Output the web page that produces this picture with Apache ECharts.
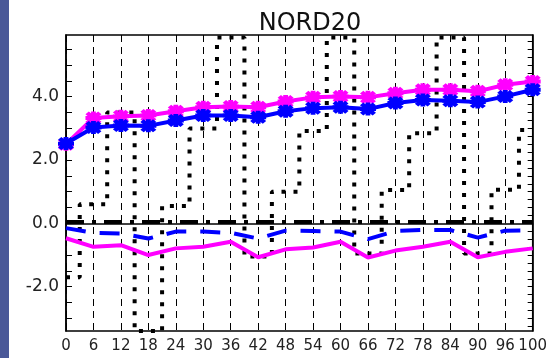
<!DOCTYPE html>
<html>
<head>
<meta charset="utf-8">
<script src="https://cdn.jsdelivr.net/npm/echarts@6/dist/echarts.min.js"></script>
<style>
  html, body { margin: 0; padding: 0; background: #ffffff; }
  #chart { width: 550px; height: 358px; }
</style>
</head>
<body>
<div id="chart"></div>
<script>
// Tick labels along the horizontal axis
const xLabels = ['0', '6', '12', '18', '24', '30', '36', '42', '48', '54', '60', '66', '72', '78', '84', '90', '96', '100'];

// Upper pair of curves (with asterisk markers)
const upperMagenta = [2.50, 3.33, 3.38, 3.41, 3.54, 3.67, 3.69, 3.67, 3.85, 3.98, 4.01, 3.98, 4.11, 4.22, 4.22, 4.17, 4.38, 4.48];
const upperBlue    = [2.52, 3.03, 3.09, 3.08, 3.25, 3.41, 3.41, 3.35, 3.54, 3.64, 3.67, 3.61, 3.80, 3.90, 3.87, 3.83, 4.01, 4.22];

// Dotted histogram-style series
const stepBlack = [-1.70, 0.60, 3.50, -3.40, 0.55, 3.00, 5.87, -1.05, 1.00, 2.92, 5.87, -0.95, 1.05, 2.85, 5.87, -0.95, 1.06, 2.95];

// Lower group of curves
const dashDotBlack = [0.04, 0.04, 0.04, 0.04, 0.04, 0.04, 0.04, 0.04, 0.04, 0.04, 0.04, 0.04, 0.04, 0.04, 0.04, 0.04, 0.04, 0.04];
const dashedBlue   = [-0.15, -0.30, -0.32, -0.48, -0.26, -0.26, -0.30, -0.48, -0.23, -0.24, -0.26, -0.50, -0.24, -0.21, -0.21, -0.45, -0.23, -0.22];
const lowerMagenta = [-0.47, -0.74, -0.69, -1.00, -0.79, -0.74, -0.58, -1.07, -0.82, -0.76, -0.58, -1.08, -0.86, -0.74, -0.58, -1.07, -0.90, -0.79];

// Y axis ticks: labelled values, left minor ticks, right-hand fine ticks
const yLabelValues = [-2, 0, 2, 4];
const yLeftTicks = [-3, -2.5, -2, -1.5, -1, -0.5, 0, 0.5, 1, 1.5, 2, 2.5, 3, 3.5, 4, 4.5, 5, 5.5];
const yRightTicks = [-3.25, -3, -2.75, -2.5, -2.25, -2, -1.75, -1.5, -1.25, -1, -0.75, -0.5, -0.25, 0, 0.25, 0.5, 0.75, 1,
  1.25, 1.5, 1.75, 2, 2.25, 2.5, 2.75, 3, 3.25, 3.5, 3.75, 4, 4.25, 4.5, 4.75, 5, 5.25, 5.5, 5.75];

const Y_MIN = -3.4, Y_MAX = 5.95;

// Chunky asterisk marker
const asterisk = 'path://M0 7H20V13H0Z M7 0H13V20H7Z M4.2 0L20 15.8L15.8 20L0 4.2Z M15.8 0L20 4.2L4.2 20L0 15.8Z';

const MAGENTA = '#ff00ff';
const BLUE = '#0000ff';

const chart = echarts.init(document.getElementById('chart'), null, { renderer: 'canvas' });

chart.setOption({
  backgroundColor: '#ffffff',
  animation: false,
  title: {
    text: 'NORD20',
    left: 305,
    top: 7,
    textAlign: 'center',
    textStyle: { fontFamily: 'DejaVu Sans', fontSize: 24, fontWeight: 'normal', color: '#111111' }
  },
  graphic: [{
    type: 'rect',
    shape: { x: 0, y: 0, width: 9, height: 358 },
    style: { fill: '#4a5898' },
    silent: true
  }],
  grid: {
    left: 66, top: 35, width: 477, height: 296,
    show: true, borderColor: '#000000', borderWidth: 1.5, backgroundColor: 'transparent'
  },
  xAxis: {
    type: 'category',
    data: xLabels,
    boundaryGap: false,
    axisLine: { show: true, lineStyle: { color: '#000000', width: 1.5 } },
    axisTick: { show: true, inside: true, length: 5, lineStyle: { color: '#000000' } },
    axisLabel: {
      interval: 0, margin: 8,
      fontFamily: 'DejaVu Sans', fontSize: 15, color: '#222222'
    },
    splitLine: { show: true, lineStyle: { color: '#000000', width: 1, type: [7, 5] } }
  },
  yAxis: [{
    type: 'value',
    min: Y_MIN, max: Y_MAX,
    axisLine: { show: true, lineStyle: { color: '#000000', width: 1.5 } },
    axisTick: { show: true, inside: true, length: 6, customValues: yLeftTicks, lineStyle: { color: '#000000' } },
    axisLabel: {
      customValues: yLabelValues, margin: 7,
      formatter: v => v.toFixed(1),
      fontFamily: 'DejaVu Sans', fontSize: 17, color: '#222222'
    },
    splitLine: { show: false }
  }, {
    type: 'value',
    position: 'right',
    min: Y_MIN, max: Y_MAX,
    axisLine: { show: true, lineStyle: { color: '#000000', width: 1.5 } },
    axisTick: { show: true, inside: true, length: 5, customValues: yRightTicks, lineStyle: { color: '#000000' } },
    axisLabel: { show: false },
    splitLine: { show: false }
  }],
  series: [
    {
      name: 'step', type: 'line', data: stepBlack, step: 'middle',
      symbol: 'none', z: 2,
      lineStyle: { color: '#000000', width: 4, type: [4, 8], cap: 'butt' }
    },
    {
      name: 'dashdot', type: 'line', data: dashDotBlack,
      symbol: 'none', z: 3,
      lineStyle: { color: '#000000', width: 4, type: [18, 8, 4, 8], cap: 'butt' }
    },
    {
      name: 'dashedBlue', type: 'line', data: dashedBlue,
      symbol: 'none', z: 3,
      lineStyle: { color: BLUE, width: 4, type: [20, 14], cap: 'butt' }
    },
    {
      name: 'lowerMagenta', type: 'line', data: lowerMagenta,
      symbol: 'none', z: 3,
      lineStyle: { color: MAGENTA, width: 4 }
    },
    {
      name: 'upperMagenta', type: 'line', data: upperMagenta,
      symbol: asterisk, symbolSize: [16, 13], showAllSymbol: true, z: 4,
      itemStyle: { color: MAGENTA },
      lineStyle: { color: MAGENTA, width: 4 }
    },
    {
      name: 'upperBlue', type: 'line', data: upperBlue,
      symbol: asterisk, symbolSize: [16, 13], showAllSymbol: true, z: 5,
      itemStyle: { color: BLUE },
      lineStyle: { color: BLUE, width: 4 }
    }
  ]
});
</script>
</body>
</html>
